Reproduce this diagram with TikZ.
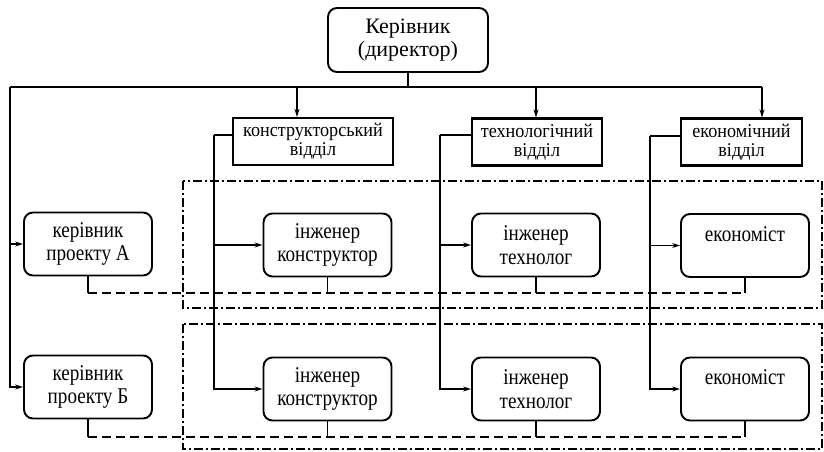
\documentclass[tikz,border=0pt]{standalone}
\usepackage{fontspec}
\setmainfont{Liberation Serif}
\newfontfamily\narrowserif{Liberation Serif}[FakeStretch=0.85]
\newfontfamily\deptserif{Liberation Serif}[FakeStretch=0.93]
\usetikzlibrary{arrows.meta}
\begin{document}
\begin{tikzpicture}[x=1pt,y=-1pt,
  conn/.style={line width=1.3pt},
  arr/.style={conn,-{Stealth[length=8pt,width=5pt]}},
  stub/.style={line width=1.1pt},
  rbox/.style={draw,line width=1.9pt,rounded corners=9pt,minimum width=128pt,
    minimum height=63pt,inner sep=0pt,align=center,
    font=\narrowserif\fontsize{22.5}{23.5}\selectfont},
  dbox/.style={draw,line width=2.1pt,minimum height=47pt,inner sep=0pt,align=center,
    font=\deptserif\fontsize{19.5}{19}\selectfont},
  grp/.style={line width=1.6pt,dash pattern=on 9pt off 3pt on 2pt off 3pt},
  ties/.style={line width=1.4pt,dash pattern=on 9pt off 5pt},
]
\useasboundingbox (0,0) rectangle (824,452);

% project groups (dash-dot frames)
\draw[grp] (183,181) rectangle (822,308);
\draw[grp] (183,324) rectangle (822,449);

% head
\node[rbox,minimum width=160pt,minimum height=64pt,
  font=\fontsize{22}{23}\selectfont] (dir) at (408,40) {Керівник\\(директор)};

% departments
\node[dbox,minimum width=160pt] (kd) at (313,141.5) {конструкторський\\відділ};
\node[dbox,minimum width=130pt] (td) at (537,142) {технологічний\\відділ};
\node[dbox,minimum width=121pt] (ed) at (741.5,142) {економічний\\відділ};

% project A row
\node[rbox] (pa) at (88,244) {керівник\\проекту А};
\node[rbox] (ka) at (327.5,245) {інженер\\конструктор};
\node[rbox] (ta) at (536,245) {інженер\\технолог};
\node[rbox] (ea) at (745,245.5) {економіст\\\phantom{e}};

% project B row
\node[rbox] (pb) at (88,387) {керівник\\проекту Б};
\node[rbox] (kb) at (327.5,389) {інженер\\конструктор};
\node[rbox] (tb) at (536,389) {інженер\\технолог};
\node[rbox] (eb) at (745,389) {економіст\\\phantom{e}};

% bus from the head
\coordinate (busL) at (10,87);
\coordinate (busR) at (762,87);
\coordinate (bk) at (297,87);
\coordinate (bt) at (536,87);
\draw[conn] (dir.south) -- (dir.south |- busL);
\draw[conn] (busL) -- (busR);
\draw[arr] (busR) -- (busR |- ed.north);
\draw[arr] (bk) -- (bk |- kd.north);
\draw[arr] (bt) -- (bt |- td.north);
\draw[arr] (busL) |- (pb.west);
\draw[arr] (busL |- pa.west) -- (pa.west);

% department lines to the specialists
\coordinate (kv) at (214,135);
\coordinate (tv) at (440,135);
\coordinate (ev) at (650,136);
\draw[conn] (kd.west |- kv) -- (kv);
\draw[arr] (kv) |- (kb.west);
\draw[arr] (kv |- ka.west) -- (ka.west);
\draw[conn] (td.west |- tv) -- (tv);
\draw[arr] (tv) |- (tb.west);
\draw[arr] (tv |- ta.west) -- (ta.west);
\draw[conn] (ed.west |- ev) -- (ev);
\draw[arr] (ev) |- (eb.west);
\draw[arr] (ev |- ea.west) -- (ea.west);

% project ties (dashed)
\coordinate (dA) at (0,293);
\coordinate (dB) at (0,437);
\foreach \n in {pa,ka,ta,ea} \draw[stub] (\n.south) -- (\n.south |- dA);
\foreach \n in {pb,kb,tb,eb} \draw[stub] (\n.south) -- (\n.south |- dB);
\draw[ties] (pa.south |- dA) -- (ea.south |- dA);
\draw[ties] (pb.south |- dB) -- (eb.south |- dB);
\end{tikzpicture}
\end{document}
